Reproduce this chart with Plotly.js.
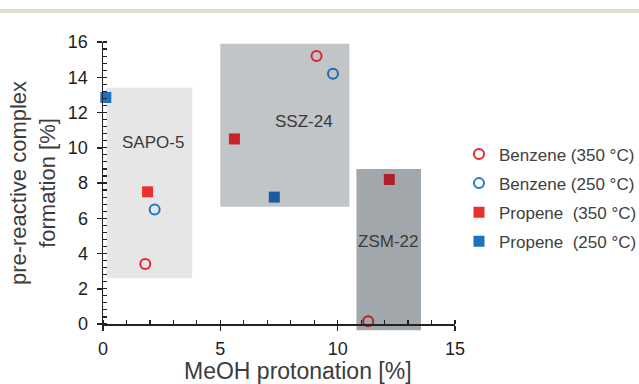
<!DOCTYPE html>
<html>
<head>
<meta charset="utf-8">
<script src="https://cdn.plot.ly/plotly-3.0.1.min.js"></script>
<style>
  html, body { margin: 0; padding: 0; background: #ffffff; }
  #chart { width: 639px; height: 384px; }
</style>
</head>
<body>
<div id="chart"></div>
<script>
// Measured series: MeOH protonation [%] (x) vs pre-reactive complex formation [%] (y)
const benzene350X = [1.8, 9.1, 11.3];
const benzene350Y = [3.4, 15.2, 0.15];
const benzene250X = [2.2, 9.8];
const benzene250Y = [6.5, 14.2];
const propene350X = [1.9, 5.6, 12.2];
const propene350Y = [7.5, 10.5, 8.2];
const propene250X = [0.12, 7.3];
const propene250Y = [12.85, 7.2];

const seriesNames = ['Benzene (350 °C)', 'Benzene (250 °C)',
                     'Propene\u00a0\u00a0(350 °C)', 'Propene\u00a0\u00a0(250 °C)'];

// Zeolite framework regions
const regionNames = ['SAPO-5', 'SSZ-24', 'ZSM-22'];
const regionX0 = [0.15, 5.0, 10.8];
const regionX1 = [3.8, 10.5, 13.55];
const regionY0 = [2.6, 6.65, -0.35];
const regionY1 = [13.4, 15.9, 8.8];
const regionLabelX = [2.13, 8.55, 12.15];
const regionLabelY = [10.3, 11.5, 4.7];

const X_RANGE = [0, 15];
const Y_RANGE = [0, 16];

// styling
const FONT = 'Liberation Sans, Arial, Helvetica, sans-serif';
const AXIS_COLOR = '#222222';
const regionFill = ['#e6e6e6', '#c1c5c8', '#a2a7ab'];
// markers look darker where they sit on the grey regions
const benzene350Colors = ['#e3262f', '#d3262e', '#b5222a'];
const benzene250Colors = ['#1d78c6', '#1a6cb4'];
const propene350Colors = ['#e8302f', '#c9222b', '#ad2229'];
const propene250Colors = ['#1a72c0', '#1a5c9e'];

function yDomain(v) {
  return (v - Y_RANGE[0]) / (Y_RANGE[1] - Y_RANGE[0]);
}

const traces = [
  {
    x: benzene350X, y: benzene350Y, name: seriesNames[0], legendgroup: 'b350',
    type: 'scatter', mode: 'markers', cliponaxis: false,
    marker: { symbol: 'circle-open', size: 10, line: { width: 2, color: benzene350Colors }, color: benzene350Colors }
  },
  {
    x: benzene250X, y: benzene250Y, name: seriesNames[1], legendgroup: 'b250',
    type: 'scatter', mode: 'markers', cliponaxis: false,
    marker: { symbol: 'circle-open', size: 10, line: { width: 2, color: benzene250Colors }, color: benzene250Colors }
  },
  {
    x: propene350X, y: propene350Y, name: seriesNames[2], legendgroup: 'p350',
    type: 'scatter', mode: 'markers', cliponaxis: false,
    marker: { symbol: 'square', size: 11, color: propene350Colors, line: { width: 0 } }
  },
  {
    x: propene250X, y: propene250Y, name: seriesNames[3], legendgroup: 'p250',
    type: 'scatter', mode: 'markers', cliponaxis: false,
    marker: { symbol: 'square', size: 11, color: propene250Colors, line: { width: 0 } }
  }
];

const shapes = [
  // thin header band across the top of the figure
  { type: 'rect', xref: 'paper', yref: 'paper', x0: -1, x1: 2, y0: 1.1028, y1: 1.117,
    fillcolor: '#e1ddd0', line: { width: 0 }, layer: 'below' }
];
const annotations = [];
regionNames.forEach((name, i) => {
  shapes.push({
    type: 'rect', xref: 'x', yref: 'y domain',
    x0: regionX0[i], x1: regionX1[i], y0: yDomain(regionY0[i]), y1: yDomain(regionY1[i]),
    fillcolor: regionFill[i], line: { width: 0 }, layer: 'below'
  });
  annotations.push({
    x: regionLabelX[i], y: regionLabelY[i], xref: 'x', yref: 'y',
    text: name, showarrow: false,
    font: { family: FONT, size: 17, color: '#3a3a3a' }
  });
});

annotations.push({
  xref: 'paper', yref: 'paper', x: 0.554, y: -0.168,
  xanchor: 'center', yanchor: 'middle',
  text: 'MeOH protonation [%]', showarrow: false,
  font: { family: FONT, size: 23, color: '#3c3c3c' }
});

const tickFont = { family: FONT, size: 18, color: '#1e1e1e' };

const layout = {
  width: 639, height: 384,
  margin: { l: 103, r: 184, t: 42, b: 60, pad: 0, autoexpand: false },
  paper_bgcolor: '#ffffff', plot_bgcolor: 'rgba(0,0,0,0)',
  font: { family: FONT, color: '#333333' },
  showlegend: true,
  legend: {
    xref: 'container', x: 0.7183, xanchor: 'left', y: 0.665, yanchor: 'top',
    font: { family: FONT, size: 17, color: '#404040' },
    tracegroupgap: 4, bgcolor: 'rgba(0,0,0,0)', itemwidth: 30
  },
  xaxis: {
    range: X_RANGE, tick0: 0, dtick: 5,
    ticks: 'outside', ticklen: 5, tickwidth: 1.5, tickcolor: AXIS_COLOR,
    showline: true, linecolor: AXIS_COLOR, linewidth: 1.5,
    showgrid: false, zeroline: false, tickfont: tickFont, ticklabelstandoff: 3,
    minor: { ticks: 'inside', dtick: 1, tick0: 0, ticklen: 4, tickwidth: 1.2, tickcolor: AXIS_COLOR, showgrid: false }
  },
  yaxis: {
    range: Y_RANGE, tick0: 0, dtick: 2,
    ticks: 'outside', ticklen: 5, tickwidth: 1.5, tickcolor: AXIS_COLOR,
    showline: true, linecolor: AXIS_COLOR, linewidth: 1.5,
    showgrid: false, zeroline: false, tickfont: tickFont, ticklabelstandoff: 5,
    minor: { ticks: 'inside', dtick: 0.4, tick0: 0, ticklen: 3.5, tickwidth: 1.2, tickcolor: AXIS_COLOR, showgrid: false },
    title: {
      text: 'pre-reactive complex<br>formation [%]',
      font: { family: FONT, size: 22, color: '#3c3c3c' },
      standoff: 6
    }
  },
  // companion axes give the major ticks their inner half
  xaxis2: {
    overlaying: 'x', anchor: 'y', side: 'bottom', range: X_RANGE, tick0: 0, dtick: 5,
    ticks: 'inside', ticklen: 5, tickwidth: 1.5, tickcolor: AXIS_COLOR,
    showticklabels: false, showline: false, showgrid: false, zeroline: false
  },
  yaxis2: {
    overlaying: 'y', anchor: 'x', side: 'left', range: Y_RANGE, tick0: 0, dtick: 2,
    ticks: 'inside', ticklen: 5, tickwidth: 1.5, tickcolor: AXIS_COLOR,
    showticklabels: false, showline: false, showgrid: false, zeroline: false
  },
  shapes: shapes,
  annotations: annotations
};

Plotly.newPlot('chart', traces, layout, { displayModeBar: false, staticPlot: true });
</script>
</body>
</html>
